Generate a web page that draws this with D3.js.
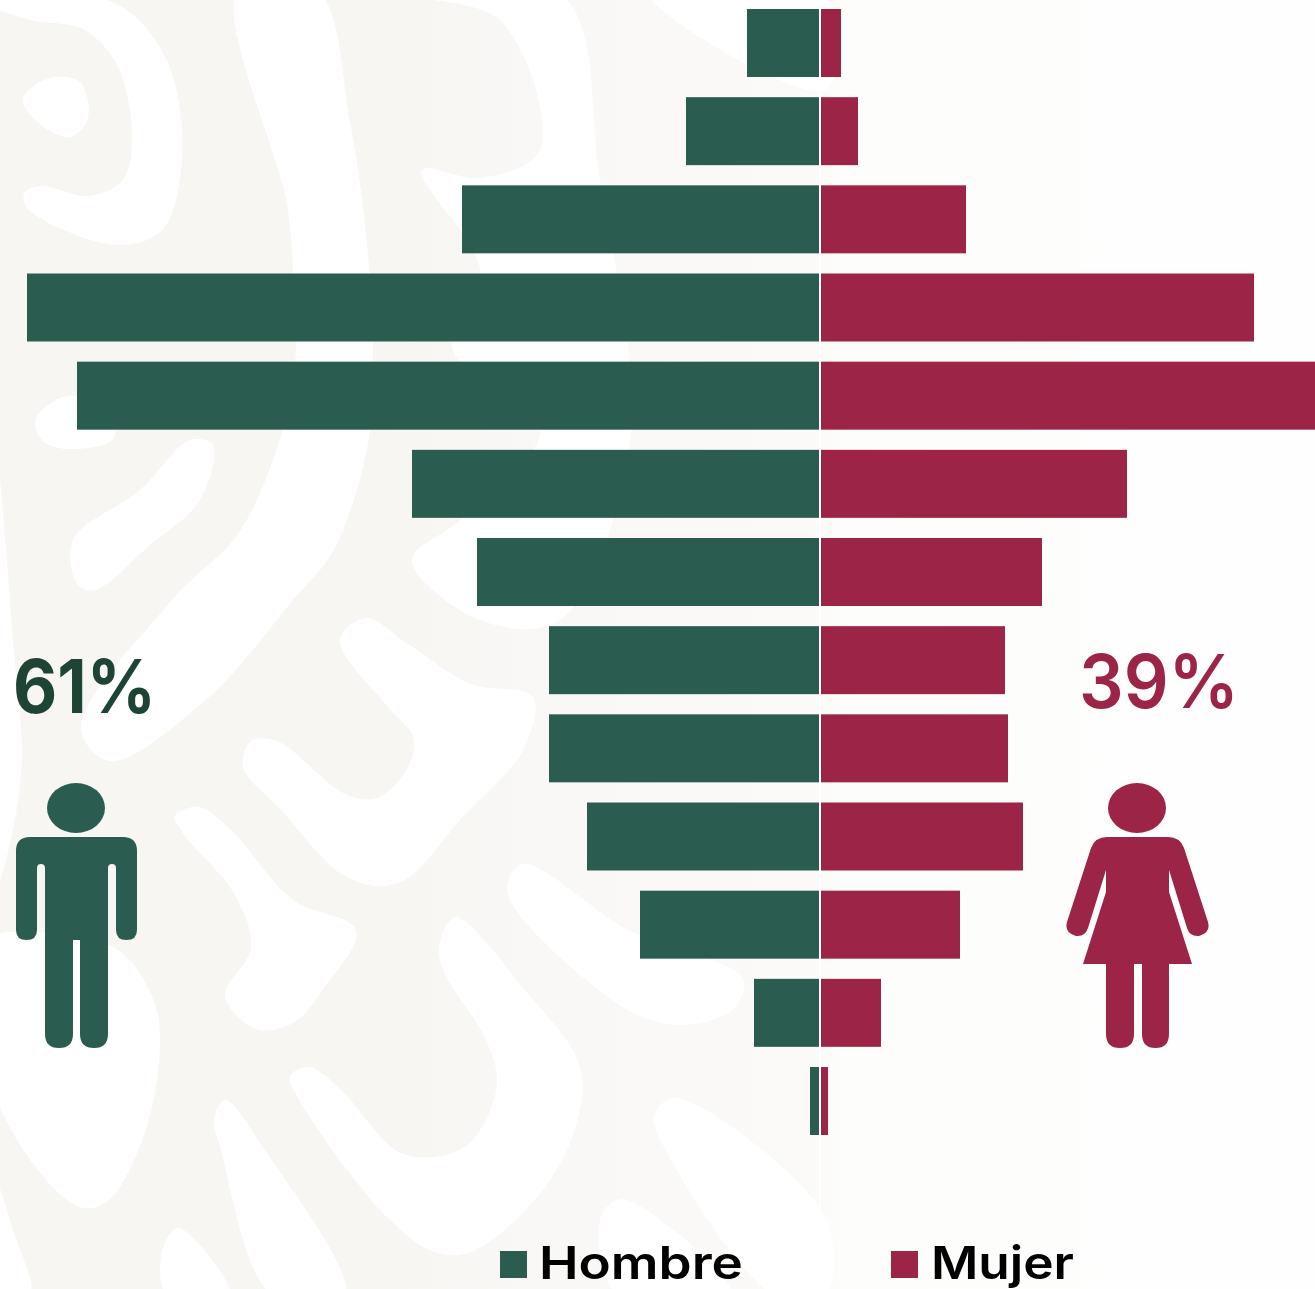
<!DOCTYPE html>
<html>
<head>
<meta charset="utf-8">
<script src="https://cdn.jsdelivr.net/npm/d3@7"></script>
<style>
html,body{margin:0;padding:0;background:#fff;overflow:hidden}
svg{display:block}
text{font-family:Inter,"Noto Sans",sans-serif}
</style>
</head>
<body>
<div id="chart"></div>
<script>
const categories = ["G1","G2","G3","G4","G5","G6","G7","G8","G9","G10","G11","G12","G13"];
const hombre = [144,266,714,1584,1484,814,684,540,540,464,358,130,18];
const mujer  = [40,74,290,866,988,612,442,368,374,404,278,120,14];
const seriesNames = ["Hombre","Mujer"];
const shares = ["61%","39%"];

const W = 1315, H = 1289;
const GREEN = "#2A5C4F", RED = "#9B2447", DARKGREEN = "#1E4436";

const svg = d3.select("#chart").append("svg").attr("width",W).attr("height",H).attr("viewBox",`0 0 ${W} ${H}`);

/* --- decorative watermark --- */
const defs = svg.append("defs");
const grad = defs.append("linearGradient").attr("id","bg").attr("gradientUnits","userSpaceOnUse")
  .attr("x1",0).attr("x2",W).attr("y1",0).attr("y2",0);
[[0,"#F7F6F3"],[0.3,"#F7F6F3"],[0.42,"#F9F8F6"],[0.62,"#FBFAF9"],[0.64,"#FDFDFC"],[1,"#FEFEFE"]]
  .forEach(([o,c])=>grad.append("stop").attr("offset",o).attr("stop-color",c));
svg.append("rect").attr("width",W).attr("height",H).attr("fill","url(#bg)");

const whiteShapes = [
 [[-20,0],[20,-4],[117,4],[167,61],[182,155],[163,229],[117,245],[27,208],[25,192],[43,186],[87,196],[123,180],[132,135],[117,65],[83,29],[30,20]],
 [[23,98],[50,78],[80,82],[88,118],[70,137],[37,122]],
 [[35,420],[67,396],[110,410],[113,439],[67,449],[43,441]],
 [[73,540],[140,490],[190,440],[213,445],[200,500],[150,545],[95,590],[78,585]],
 [[238,-10],[287,204],[293,269],[295,367],[283,429],[240,531],[172,600],[81,728],[110,761],[209,697],[293,600],[333,551],[367,449],[373,347],[367,245],[350,122],[317,-10]],
 [[-10,939],[21,932],[115,948],[152,996],[160,1040],[146,1129],[110,1199],[84,1208],[47,1181],[-10,1080]],
 [[340,640],[366,618],[408,644],[471,684],[533,697],[523,750],[460,820],[408,878],[377,886],[340,873],[282,811],[243,767],[251,741],[277,741],[345,794],[377,798],[408,767],[413,737],[387,706]],
 [[175,816],[199,807],[230,829],[293,900],[356,930],[324,988],[293,1023],[256,1029],[225,996],[251,948],[235,895],[183,833]],
 [[507,886],[523,864],[628,930],[743,979],[732,1010],[680,1025],[628,1010],[518,913]],
 [[439,948],[455,917],[523,988],[580,1067],[575,1129],[539,1195],[471,1252],[434,1252],[387,1217],[298,1098],[290,1076],[309,1067],[340,1089],[397,1151],[434,1157],[471,1142],[497,1085],[486,1040],[445,974]],
 [[214,1120],[225,1100],[262,1146],[345,1295],[272,1295],[220,1146]],
 [[162,1252],[178,1228],[230,1295],[167,1295]],
 [[654,1115],[675,1098],[825,1217],[825,1295],[774,1295],[659,1137]],
 [[601,1217],[622,1199],[732,1295],[617,1295]],
 [[422,170],[480,178],[540,150],[500,20],[395,-5],[562,-5],[600,180],[630,440],[560,620],[480,620],[412,560],[460,520],[540,430],[453,350],[480,270]],
 [[650,-5],[825,-5],[825,90]],
 [[-5,445],[13,640],[21,776],[-5,890]],
 [[-5,1180],[13,1230],[30,1295],[-5,1295]]
];
const blob = d3.line().curve(d3.curveCatmullRomClosed.alpha(0.5));
svg.append("g").selectAll("path").data(whiteShapes).join("path").attr("d",blob).attr("fill","#FFFFFF");

/* --- scales --- */
const y = d3.scaleBand().domain(categories).range([9,1135]).paddingInner(0.2288).paddingOuter(0);
const xH = d3.scaleLinear().domain([0,1000]).range([819,319]);
const xM = d3.scaleLinear().domain([0,1000]).range([821,1321]);

/* --- bars --- */
svg.append("g").selectAll("rect").data(categories).join("rect")
  .attr("x",(d,i)=>xH(hombre[i])).attr("y",d=>y(d))
  .attr("width",(d,i)=>xH(0)-xH(hombre[i])).attr("height",y.bandwidth()).attr("fill",GREEN);
svg.append("g").selectAll("rect").data(categories).join("rect")
  .attr("x",xM(0)).attr("y",d=>y(d))
  .attr("width",(d,i)=>xM(mujer[i])-xM(0)).attr("height",y.bandwidth()).attr("fill",RED);

/* --- percentages --- */
svg.append("text").attr("x",13).attr("y",713).attr("font-size",74).attr("font-weight",700)
  .attr("fill",DARKGREEN).attr("textLength",143).attr("lengthAdjust","spacingAndGlyphs").text(shares[0]);
svg.append("text").attr("x",1079).attr("y",708).attr("font-size",74).attr("font-weight",600)
  .attr("fill",RED).attr("textLength",160).attr("lengthAdjust","spacingAndGlyphs").text(shares[1]);

/* --- pictograms --- */
const man = svg.append("g").attr("fill",GREEN);
man.append("ellipse").attr("cx",76).attr("cy",808).attr("rx",29).attr("ry",25);
man.append("path").attr("d","M30,837H123Q137,837 137,851V930Q137,940 126.500,940Q116,940 116,930V868Q116,864 112,864Q108,864 108,868V1034Q108,1048 94,1048Q80,1048 80,1034V940H73V1034Q73,1048 59,1048Q45,1048 45,1034V868Q45,864 41,864Q37,864 37,868V930Q37,940 26.500,940Q16,940 16,930V851Q16,837 30,837Z");
const woman = svg.append("g").attr("fill",RED);
woman.append("ellipse").attr("cx",1137).attr("cy",808).attr("rx",29).attr("ry",25);
woman.append("path").attr("d","M1107,837H1168Q1180,837 1184,848L1208,922Q1211,933 1199,936Q1190,937 1187,928L1169,870V892L1192,964H1169V1034Q1169,1048 1155.500,1048Q1142,1048 1142,1034V964H1134V1034Q1134,1048 1120,1048Q1106,1048 1106,1034V964H1083L1106,892V870L1088,928Q1085,937 1076,936Q1064,933 1067,922L1091,848Q1095,837 1107,837Z");

/* --- legend --- */
const legend = svg.append("g");
[[500,539,204,GREEN],[891,931,143,RED]].forEach(([sx,tx,tw,c],i)=>{
  legend.append("rect").attr("x",sx).attr("y",1251).attr("width",27).attr("height",27).attr("fill",c);
  legend.append("text").attr("x",tx).attr("y",1279).attr("font-size",45).attr("font-weight",600)
    .attr("fill","#000").attr("textLength",tw).attr("lengthAdjust","spacingAndGlyphs").text(seriesNames[i]);
});

/* --- centre line --- */
svg.append("line").attr("x1",820).attr("x2",820).attr("y1",0).attr("y2",1220).attr("stroke","#fff").attr("stroke-width",2);
</script>
</body>
</html>
